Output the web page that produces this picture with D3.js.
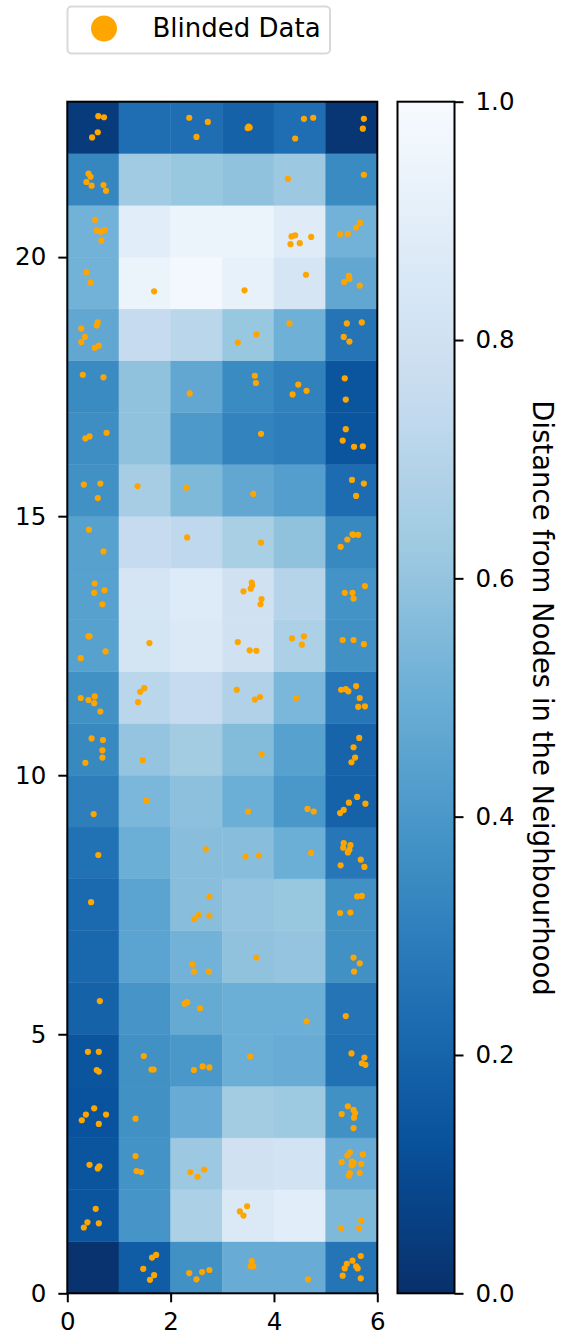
<!DOCTYPE html>
<html>
<head>
<meta charset="utf-8">
<script src="https://cdn.jsdelivr.net/npm/d3@7"></script>
<style>
  body { margin: 0; background: #fff; }
  text { font-family: "DejaVu Sans", sans-serif; }
</style>
</head>
<body>
<div id="chart"></div>
<script>
// grid values, one row per unit of y (row 0 at the bottom), 6 columns
var heatRows = [
  [0.01, 0.17, 0.37, 0.49, 0.49, 0.26],
  [0.14, 0.39, 0.67, 0.86, 0.89, 0.55],
  [0.14, 0.38, 0.62, 0.80, 0.81, 0.49],
  [0.13, 0.37, 0.49, 0.64, 0.625, 0.37],
  [0.14, 0.37, 0.40, 0.50, 0.49, 0.25],
  [0.19, 0.39, 0.48, 0.50, 0.50, 0.26],
  [0.21, 0.45, 0.52, 0.59, 0.60, 0.37],
  [0.22, 0.45, 0.57, 0.60, 0.61, 0.37],
  [0.25, 0.50, 0.57, 0.57, 0.50, 0.27],
  [0.30, 0.54, 0.58, 0.50, 0.40, 0.19],
  [0.34, 0.60, 0.64, 0.56, 0.44, 0.20],
  [0.37, 0.71, 0.75, 0.68, 0.54, 0.27],
  [0.44, 0.82, 0.86, 0.80, 0.67, 0.37],
  [0.44, 0.83, 0.87, 0.80, 0.70, 0.38],
  [0.44, 0.75, 0.73, 0.66, 0.59, 0.34],
  [0.37, 0.65, 0.55, 0.47, 0.43, 0.23],
  [0.36, 0.59, 0.41, 0.32, 0.30, 0.14],
  [0.35, 0.59, 0.47, 0.35, 0.31, 0.14],
  [0.47, 0.75, 0.71, 0.61, 0.51, 0.26],
  [0.52, 0.94, 0.98, 0.92, 0.83, 0.47],
  [0.52, 0.89, 0.94, 0.94, 0.88, 0.52],
  [0.33, 0.63, 0.61, 0.59, 0.62, 0.35],
  [0.04, 0.24, 0.24, 0.19, 0.24, 0.02]
];

// blinded data points
var pointX = [
  0.60,0.71,0.59,0.48,2.36,2.72,2.50,3.49,3.53,3.51,4.58,4.76,4.41,5.74,5.72,
  0.41,0.45,0.37,0.47,0.70,0.75,4.27,5.74,
  0.54,0.57,0.65,0.72,0.66,4.34,4.41,4.32,4.50,4.72,5.28,5.43,5.59,5.67,
  0.37,0.45,1.68,3.43,4.62,5.45,5.46,5.36,5.66,
  0.59,0.57,0.27,0.34,0.27,0.53,0.61,3.66,3.30,4.30,5.41,5.70,5.35,5.46,
  0.30,0.70,2.37,3.63,3.65,4.47,4.63,4.36,5.37,5.39,
  0.43,0.35,0.76,3.75,5.39,5.33,5.55,5.72,
  0.32,0.64,0.59,1.36,2.30,3.60,5.51,5.74,5.59,
  0.42,0.70,2.32,3.75,5.52,5.63,5.54,5.42,5.29,
  0.53,0.52,0.72,0.68,3.57,3.58,3.55,3.41,3.76,3.74,5.76,5.37,5.52,5.54,
  0.41,0.43,0.74,0.26,1.59,3.30,3.53,3.66,4.35,4.58,4.54,5.33,5.54,5.74,
  0.26,0.41,0.53,0.52,0.64,1.49,1.41,1.37,3.28,3.63,3.73,4.43,5.30,5.39,5.44,5.59,5.66,5.63,5.76,
  0.47,0.69,0.68,0.68,0.35,1.46,3.76,5.65,5.54,5.57,5.50,
  0.51,1.53,3.50,4.65,4.77,5.61,5.45,5.77,5.35,5.28,
  0.60,2.68,3.45,3.71,4.72,5.35,5.34,5.48,5.46,5.43,5.68,5.29,5.75,
  0.46,2.75,2.54,2.45,2.75,5.61,5.70,5.28,5.48,
  2.42,2.45,2.74,3.66,5.54,5.66,5.55,
  0.63,2.27,2.32,2.57,4.63,5.39,
  0.40,0.61,0.57,0.61,1.48,1.63,1.67,2.45,2.62,2.75,3.54,5.50,5.75,5.70,5.77,
  0.52,0.36,0.75,0.28,0.61,1.32,5.43,5.54,5.57,5.31,5.55,5.54,
  0.43,0.62,0.59,1.32,1.34,1.43,2.38,2.52,2.65,5.47,5.42,5.72,5.31,5.51,5.54,5.50,5.69,5.47,5.45,5.66,5.52,
  0.55,0.39,0.32,0.61,3.48,3.34,3.41,5.69,5.65,5.30,
  1.72,1.64,1.47,1.68,1.60,2.36,2.50,2.61,2.75,3.57,3.55,3.60,4.66,5.68,5.52,5.41,5.37,5.59,5.62,5.33,5.68
];
var pointY = [
  22.72,22.70,22.41,22.31,22.69,22.61,22.32,22.49,22.50,22.52,22.67,22.69,22.29,22.67,22.48,
  21.61,21.55,21.45,21.38,21.39,21.28,21.51,21.59,
  20.72,20.51,20.49,20.52,20.32,20.40,20.42,20.25,20.27,20.39,20.44,20.45,20.57,20.66,
  19.71,19.51,19.34,19.36,19.66,19.64,19.58,19.52,19.45,
  18.74,18.68,18.62,18.46,18.36,18.25,18.29,18.51,18.35,18.72,18.72,18.74,18.46,18.37,
  17.73,17.68,17.37,17.71,17.57,17.54,17.42,17.35,17.66,17.25,
  16.54,16.50,16.61,16.59,16.68,16.46,16.34,16.35,
  15.61,15.63,15.35,15.58,15.55,15.43,15.70,15.63,15.39,
  14.74,14.32,14.59,14.49,14.65,14.64,14.64,14.55,14.41,
  13.70,13.52,13.57,13.30,13.72,13.66,13.60,13.55,13.40,13.30,13.65,13.52,13.52,13.41,
  12.68,12.68,12.39,12.26,12.55,12.57,12.41,12.40,12.64,12.68,12.52,12.61,12.61,12.53,
  11.49,11.45,11.52,11.39,11.23,11.68,11.61,11.41,11.65,11.46,11.51,11.49,11.65,11.66,11.62,11.72,11.49,11.32,11.33,
  10.71,10.68,10.48,10.34,10.24,10.29,10.41,10.72,10.54,10.34,10.25,
  9.25,9.51,9.30,9.35,9.30,9.58,9.47,9.45,9.33,9.27,
  8.46,8.57,8.43,8.45,8.50,8.69,8.60,8.65,8.56,8.51,8.37,8.26,8.23,
  7.55,7.65,7.30,7.22,7.29,7.66,7.67,7.34,7.35,
  6.35,6.21,6.21,6.48,6.48,6.37,6.21,
  5.64,5.59,5.62,5.50,5.25,5.35,
  4.66,4.66,4.31,4.28,4.58,4.32,4.32,4.31,4.38,4.36,4.57,4.63,4.55,4.44,4.41,
  3.57,3.45,3.45,3.34,3.27,3.37,3.61,3.54,3.48,3.46,3.39,3.19,
  2.48,2.45,2.41,2.65,2.36,2.34,2.34,2.25,2.39,2.72,2.66,2.68,2.53,2.54,2.52,2.47,2.50,2.32,2.27,2.32,2.48,
  1.63,1.37,1.27,1.35,1.68,1.58,1.50,1.41,1.26,1.26,
  0.74,0.69,0.47,0.35,0.26,0.39,0.27,0.41,0.45,0.62,0.52,0.52,0.27,0.72,0.63,0.57,0.48,0.52,0.48,0.34,0.29
];

var xTicks = [0, 2, 4, 6];
var yTicks = [0, 5, 10, 15, 20];
var cbarTicks = [0.0, 0.2, 0.4, 0.6, 0.8, 1.0];
var legendLabel = "Blinded Data";
var cbarLabel = "Distance from Nodes in the Neighbourhood";

var svgWidth = 561;
var svgHeight = 1335;
var plot = { left: 67.3, top: 101.7, width: 310, height: 1191.6 };
var cbar = { left: 397.5, width: 57 };

var svg = d3.select("#chart")
  .append("svg")
  .attr("width", svgWidth)
  .attr("height", svgHeight);

var x = d3.scaleLinear().domain([0, 6]).range([plot.left, plot.left + plot.width]);
var y = d3.scaleLinear().domain([0, 23]).range([plot.top + plot.height, plot.top]);

// matplotlib "Blues_r": linear between the brewer stops
var bluesStops = ["#08306b", "#08519c", "#2171b5", "#4292c6", "#6baed6", "#9ecae1", "#c6dbef", "#deebf7", "#f7fbff"];
var color = d3.scaleLinear()
  .domain(d3.range(9).map(i => i / 8))
  .range(bluesStops)
  .interpolate(d3.interpolateRgb)
  .clamp(true);

var cells = [];
heatRows.forEach(function(row, r) {
  row.forEach(function(v, c) { cells.push({ r: r, c: c, v: v }); });
});

svg.append("g")
  .selectAll("rect")
  .data(cells)
  .enter()
  .append("rect")
  .attr("x", d => x(d.c))
  .attr("y", d => y(d.r + 1))
  .attr("width", d => x(d.c + 1) - x(d.c))
  .attr("height", d => y(d.r) - y(d.r + 1))
  .attr("fill", d => color(d.v))
  .attr("stroke", d => color(d.v))
  .attr("stroke-width", 0.4);

// scatter
svg.append("g")
  .selectAll("circle")
  .data(pointX.map((px, i) => [px, pointY[i]]))
  .enter()
  .append("circle")
  .attr("cx", d => x(d[0]))
  .attr("cy", d => y(d[1]))
  .attr("r", 3.1)
  .attr("fill", "orange");

// frame + axes
svg.append("rect")
  .attr("x", plot.left).attr("y", plot.top)
  .attr("width", plot.width).attr("height", plot.height)
  .attr("fill", "none").attr("stroke", "#000").attr("stroke-width", 2);

function styleAxis(g) {
  g.select(".domain").remove();
  g.selectAll(".tick line").attr("stroke", "#000").attr("stroke-width", 2);
  g.selectAll(".tick text").attr("fill", "#000").style("font-size", "24.5px")
    .style("font-family", "DejaVu Sans");
}

svg.append("g")
  .attr("transform", `translate(0, ${plot.top + plot.height})`)
  .call(d3.axisBottom(x).tickValues(xTicks).tickSize(9).tickPadding(10).tickFormat(d3.format("d")))
  .call(styleAxis);

svg.append("g")
  .attr("transform", `translate(${plot.left}, 0)`)
  .call(d3.axisLeft(y).tickValues(yTicks).tickSize(9).tickPadding(12).tickFormat(d3.format("d")))
  .call(styleAxis);

// colorbar
var cy = d3.scaleLinear().domain([0, 1]).range([plot.top + plot.height, plot.top]);
var grad = svg.append("defs").append("linearGradient")
  .attr("id", "cbgrad")
  .attr("x1", 0).attr("y1", 1).attr("x2", 0).attr("y2", 0);
grad.selectAll("stop")
  .data(d3.range(0, 1.0001, 0.02))
  .enter()
  .append("stop")
  .attr("offset", d => d)
  .attr("stop-color", d => color(d));

svg.append("rect")
  .attr("x", cbar.left).attr("y", plot.top)
  .attr("width", cbar.width).attr("height", plot.height)
  .attr("fill", "url(#cbgrad)")
  .attr("stroke", "#000").attr("stroke-width", 2);

svg.append("g")
  .attr("transform", `translate(${cbar.left + cbar.width}, 0)`)
  .call(d3.axisRight(cy).tickValues(cbarTicks).tickSize(9).tickPadding(12).tickFormat(d3.format(".1f")))
  .call(styleAxis);

svg.append("text")
  .attr("transform", "translate(533, 698) rotate(90)")
  .attr("text-anchor", "middle")
  .style("font-size", "27.5px")
  .text(cbarLabel);

// legend
var legend = svg.append("g");
legend.append("rect")
  .attr("x", 67.5).attr("y", 6.5)
  .attr("width", 262.5).attr("height", 47)
  .attr("rx", 4)
  .attr("fill", "#fff").attr("fill-opacity", 0.8)
  .attr("stroke", "#d9d9d9").attr("stroke-width", 2);
legend.append("circle")
  .attr("cx", 104).attr("cy", 28.5).attr("r", 13)
  .attr("fill", "orange");
legend.append("text")
  .attr("x", 152.5).attr("y", 37)
  .style("font-size", "26px")
  .text(legendLabel);
</script>
</body>
</html>
